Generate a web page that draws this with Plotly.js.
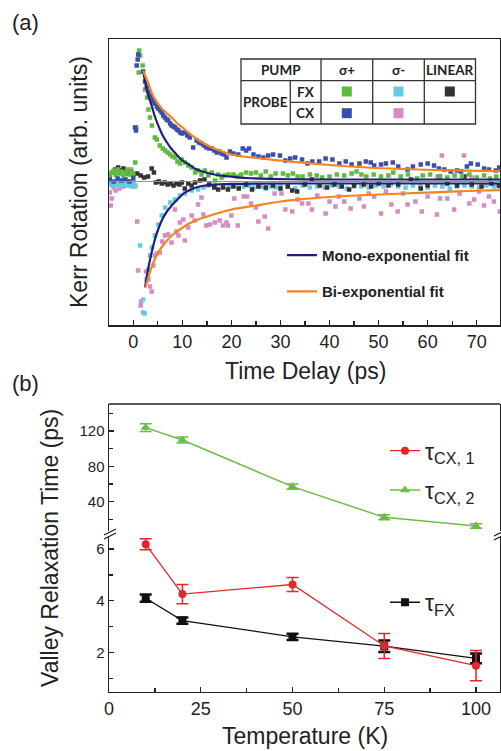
<!DOCTYPE html>
<html><head><meta charset="utf-8">
<script src="https://cdn.plot.ly/plotly-3.0.1.min.js"></script>
<style>html,body{margin:0;padding:0;background:#fff;}#chart{width:501px;height:751px;}</style>
</head><body><div id="chart"></div>
<script>
// ---------- Panel (a): Kerr rotation vs time delay ----------
const fxSigPlusT = [-4.8,-4.4,-4.0,-3.6,-3.2,-2.8,-2.4,-2.0,-1.6,-1.2,-0.8,-0.4,0.0,0.4,0.6,1.1,1.2,1.4,1.9,2.4,2.8,3.1,3.4,3.8,4.4,4.8,5.4,6.0,6.5,7.0,7.5,8.0,8.5,9.0,9.5,9.9,10.5,11.2,11.9,12.6,13.2,13.9,14.6,15.3,16.0,16.7,17.3,18.0,18.6,19.4,20.4,21.2,22.0,23.0,24.0,25.0,26.0,27.0,28.0,29.0,30.5,31.5,32.5,33.5,34.5,36.0,37.4,38.5,40.0,41.5,43.0,44.5,45.5,46.5,47.5,49.0,50.5,52.0,53.0,54.5,56.0,57.8,59.0,60.5,62.5,64.0,65.5,67.0,68.5,70.0,71.5,72.7,74.0];
const fxSigPlusV = [0.06,0.09,0.11,0.07,0.12,0.08,0.10,0.06,0.09,0.12,0.07,0.10,0.08,0.19,0.54,1.09,1.31,1.26,1.16,0.92,0.84,0.72,0.64,0.56,0.44,0.42,0.36,0.33,0.31,0.29,0.27,0.25,0.24,0.20,0.18,0.22,0.19,0.16,0.14,0.09,0.11,0.07,0.11,0.06,0.09,0.01,0.07,0.04,0.06,0.07,0.07,0.05,0.07,0.09,0.08,0.09,0.06,0.10,0.05,0.08,0.08,0.06,0.08,0.05,0.05,0.07,0.06,0.04,0.05,0.07,0.06,0.08,0.10,0.07,0.05,0.07,0.05,0.06,0.09,0.05,0.07,0.03,0.06,0.07,0.05,0.04,0.06,0.05,0.07,0.04,0.06,0.03,0.05];

const fxSigMinusT = [-4.8,-4.4,-4.0,-3.6,-3.2,-2.8,-2.4,-2.0,-1.6,-1.2,-0.8,-0.4,0.0,0.4,1.4,2.0,2.0,2.3,2.7,3.1,3.4,3.8,4.4,5.1,5.8,6.5,7.5,8.5,9.5,10.5,11.9,13.2,14.3,15.3,16.7,18.3,19.5,20.5,21.5,22.5,23.5,24.5,26.0,27.0,28.0,29.0,30.0,31.5,33.0,34.5,36.0,37.5,39.0,40.5,42.0,43.5,45.0,46.5,48.0,49.5,51.0,52.5,54.0,55.5,57.0,58.5,60.0,61.5,63.0,64.5,66.0,67.5,69.0,70.5,72.0,73.5,74.6];
const fxSigMinusV = [-0.02,-0.04,-0.01,-0.03,0.00,-0.04,-0.02,-0.03,-0.01,-0.04,-0.02,-0.05,-0.03,-0.04,-0.64,-1.18,-1.31,-1.32,-0.98,-0.88,-0.74,-0.66,-0.54,-0.43,-0.34,-0.26,-0.21,-0.18,-0.14,-0.12,-0.09,-0.08,-0.06,-0.04,-0.04,-0.04,-0.05,-0.04,-0.06,-0.05,-0.04,-0.06,-0.05,-0.07,-0.05,-0.06,-0.04,-0.05,-0.07,-0.04,-0.06,-0.05,-0.06,-0.04,-0.05,-0.07,-0.05,-0.05,-0.06,-0.04,-0.05,-0.03,-0.05,-0.06,-0.04,-0.05,-0.06,-0.04,-0.05,-0.07,-0.05,-0.04,-0.05,-0.06,-0.04,-0.05,-0.05];

const fxLinearT = [-4.8,-4.2,-3.7,-3.1,-2.6,-2.0,-1.5,-1.0,-0.5,0.0,0.8,1.5,2.2,3.0,3.75,4.2,4.6,5.2,5.8,6.4,7.0,7.6,8.2,8.8,9.4,9.9,10.5,11.2,11.9,12.6,13.6,14.5,15.5,16.5,17.3,18.3,19.3,20.4,21.5,23.0,24.2,25.5,27.0,28.5,30.0,31.5,32.4,33.4,35.0,36.4,38.0,39.5,41.0,42.5,44.0,45.0,47.0,48.5,50.0,52.0,54.0,56.6,58.6,60.0,62.5,64.0,66.0,67.5,69.0,71.0,73.0,74.5];
const fxLinearV = [0.07,0.09,0.12,0.14,0.11,0.13,0.09,0.08,0.10,0.07,0.08,0.06,0.04,0.05,0.13,0.09,-0.01,0.00,-0.02,-0.01,-0.03,-0.02,-0.04,-0.02,-0.03,-0.01,-0.07,-0.02,-0.04,-0.01,0.01,0.02,-0.03,-0.06,-0.08,-0.06,-0.08,-0.05,-0.07,-0.03,-0.08,-0.05,-0.06,-0.04,-0.07,-0.05,-0.09,-0.10,-0.03,0.02,-0.04,-0.06,-0.03,-0.05,-0.08,-0.04,-0.03,-0.05,-0.02,-0.04,-0.03,0.02,-0.07,-0.04,0.05,-0.02,-0.04,0.05,-0.03,-0.05,-0.02,-0.04];

const cxSigPlusT = [-4.8,-4.0,-3.2,-2.4,-1.6,-0.8,0.0,0.35,0.55,0.7,0.9,1.0,2.0,2.4,2.75,3.1,3.4,3.75,4.1,4.4,4.8,5.1,5.5,5.8,6.1,6.45,6.8,7.1,7.5,7.8,8.2,8.5,8.9,9.2,9.6,9.9,10.5,11.0,11.5,12.2,12.9,13.4,13.9,14.4,14.9,15.5,16.0,16.5,17.0,17.5,18.0,18.5,19.0,19.7,20.4,21.4,22.3,23.0,23.6,24.5,25.5,26.5,27.5,28.5,29.9,31.0,32.0,33.0,34.4,35.5,36.5,37.9,39.2,40.6,42.0,43.3,44.5,46.1,47.4,48.4,49.1,50.5,51.5,52.9,54.0,55.9,57.0,58.6,60.0,61.3,62.3,63.4,64.7,66.0,66.8,68.0,68.8,70.2,71.5,72.5,73.9,74.6];
const cxSigPlusV = [0.02,0.00,0.03,0.01,0.02,0.00,0.03,0.54,0.51,1.16,1.22,1.27,1.10,1.00,0.95,0.90,0.86,0.83,0.80,0.78,0.75,0.73,0.71,0.69,0.66,0.64,0.62,0.61,0.58,0.56,0.55,0.54,0.52,0.51,0.49,0.48,0.49,0.46,0.44,0.34,0.41,0.39,0.38,0.36,0.34,0.33,0.33,0.31,0.29,0.30,0.28,0.27,0.24,0.30,0.28,0.27,0.33,0.31,0.33,0.27,0.25,0.24,0.26,0.27,0.26,0.21,0.23,0.24,0.22,0.18,0.20,0.20,0.23,0.22,0.18,0.20,0.17,0.18,0.20,0.19,0.16,0.17,0.18,0.19,0.15,0.12,0.15,0.17,0.18,0.16,0.13,0.12,0.10,0.11,0.10,0.15,0.18,0.17,0.13,0.12,0.11,0.14];

const cxSigMinusT = [-4.8,-4.6,-4.4,-4.0,-3.6,-3.2,-2.8,-2.4,-2.0,-1.6,-1.2,-0.8,-0.4,0.0,0.4,0.8,1.0,1.5,1.6,2.6,3.1,3.4,3.75,4.1,4.4,4.8,5.4,5.9,6.45,7.1,7.8,8.5,8.8,9.2,9.5,10.2,10.5,11.2,11.9,12.5,13.2,13.9,14.3,14.9,15.6,16.6,17.6,18.3,19.0,19.3,20.0,20.6,21.3,22.5,23.2,24.0,25.0,25.5,26.8,27.5,28.8,30.2,31.0,32.4,33.5,34.4,35.7,36.4,37.5,39.2,40.0,41.2,41.9,43.0,44.3,46.1,47.0,48.0,49.1,50.5,51.5,52.6,53.9,55.0,55.9,57.5,58.8,60.0,61.9,62.0,62.5,62.9,64.0,65.4,66.5,67.4,68.5,69.0,69.5,70.5,71.5,72.5,73.5,74.7];
const cxSigMinusV = [-0.11,-0.24,-0.17,-0.06,-0.09,-0.03,-0.07,-0.02,-0.05,0.01,-0.03,0.00,0.12,-0.02,-0.05,-0.40,-0.89,-1.24,-1.20,-0.90,-0.98,-1.05,-1.10,-0.84,-0.74,-0.72,-0.71,-0.60,-0.54,-0.53,-0.61,-0.28,-0.50,-0.54,-0.41,-0.38,-0.59,-0.46,-0.34,-0.39,-0.23,-0.16,-0.33,-0.44,-0.43,-0.41,-0.39,-0.44,-0.41,-0.44,-0.34,-0.17,-0.44,-0.15,-0.15,-0.22,-0.26,-0.40,-0.35,-0.47,-0.12,-0.12,-0.28,-0.30,-0.18,-0.22,-0.22,-0.28,-0.14,-0.32,-0.20,-0.25,-0.15,-0.20,-0.27,-0.17,-0.25,-0.12,-0.15,-0.32,-0.10,-0.23,-0.30,-0.12,-0.23,-0.20,-0.30,-0.15,-0.33,0.05,-0.17,0.26,-0.17,-0.28,-0.12,0.26,-0.22,0.04,-0.18,-0.10,-0.24,-0.15,-0.20,-0.30];

// fitted curves
const monoUpT = [2.0,2.5,3.0,3.75,4.4,5.1,6.0,7.0,7.8,9.0,10.0,11.2,12.5,14.6,17.0,19.7,23,28,35,45,55,65,75];
const monoUpV = [1.108,0.98,0.87,0.758,0.65,0.558,0.46,0.38,0.325,0.26,0.21,0.175,0.13,0.092,0.065,0.05,0.035,0.026,0.021,0.02,0.02,0.02,0.02];
const monoLowT = [2.4,3.0,3.75,4.4,5.1,6.0,7.0,7.8,9.0,10.0,11.2,12.5,14.6,17,20,25,35,50,75];
const monoLowV = [-1.058,-0.88,-0.708,-0.58,-0.475,-0.37,-0.29,-0.242,-0.18,-0.13,-0.092,-0.065,-0.04,-0.03,-0.024,-0.021,-0.02,-0.02,-0.02];
const biUpT = [2.0,2.5,3.0,3.5,4.0,5.0,6.0,7.0,7.8,9.0,10.5,12.5,14.6,17,20.4,25,30,34,40,47.6,55,61.2,68,75];
const biUpV = [1.108,1.05,0.99,0.92,0.86,0.78,0.72,0.675,0.642,0.58,0.52,0.44,0.375,0.32,0.265,0.235,0.21,0.19,0.165,0.14,0.125,0.115,0.108,0.104];
const biLowT = [2.5,3.0,3.5,4.4,5.2,6.2,7.8,9.5,11.2,13,14.6,17,20,25,30,34,40,47.6,55,61.2,68,75];
const biLowV = [-1.058,-0.97,-0.89,-0.775,-0.70,-0.63,-0.542,-0.48,-0.425,-0.385,-0.358,-0.32,-0.28,-0.24,-0.20,-0.178,-0.155,-0.135,-0.12,-0.108,-0.095,-0.085];
const zeroT = [-5,75];
const zeroV = [0,0];

// ---------- Panel (b): valley relaxation time vs temperature ----------
const temps = [10,20,50,75,100];
const tauCX1 = [6.18,4.26,4.63,2.26,1.50];
const tauCX1Err = [0.21,0.37,0.27,0.48,0.58];
const tauCX2 = [123.8,109.8,57.0,22.3,12.5];
const tauCX2Err = [4.5,3.5,3.0,2.8,2.5];
const tauFX = [4.10,3.24,2.61,2.25,1.78];
const tauFXErr = [0.14,0.12,0.12,0.22,0.19];

const tableHead = ['PUMP','σ+','σ-','LINEAR'];
const tableRows = ['FX','CX'];

// ---------- helpers for layout in pixels ----------
const W = 501, H = 751;
const fx = p => p / W;
const fy = p => 1 - p / H;
const FONT = 'Liberation Sans, Arial, sans-serif';
const AX = '#222';

const C = {green:'#5dbb3f', cyan:'#63cde0', black:'#333333', blue:'#3b4eab', pink:'#d68bc6',
           navy:'#1d1f7a', orange:'#f5831f', red:'#e5262b', lgreen:'#6cbd45', dark:'#111111'};

function pts(x, y, color) {
  return {x:x, y:y, xaxis:'x', yaxis:'y', type:'scatter', mode:'markers', showlegend:false,
          marker:{symbol:'square', size:4.5, color:color, line:{width:0}}, hoverinfo:'skip'};
}
function fit(x, y, color, opts) {
  return Object.assign({x:x, y:y, xaxis:'x', yaxis:'y', type:'scatter', mode:'lines', showlegend:false,
          line:{color:color, width:2.2, shape:'spline', smoothing:0.8}, hoverinfo:'skip'}, opts||{});
}

const traces = [
  pts(cxSigMinusT, cxSigMinusV, C.pink),
  pts(fxSigMinusT, fxSigMinusV, C.cyan),
  pts(fxLinearT, fxLinearV, C.black),
  pts(fxSigPlusT, fxSigPlusV, C.green),
  pts(cxSigPlusT, cxSigPlusV, C.blue),
  fit(zeroT, zeroV, C.green, {line:{color:C.green, width:1.2}}),
  fit(monoLowT, monoLowV, C.navy),
  fit(monoUpT, monoUpV, C.navy, {showlegend:true, name:'<b>Mono-exponential fit</b>', legend:'legend4'}),
  fit(biLowT, biLowV, C.orange),
  fit(biUpT, biUpV, C.orange, {showlegend:true, name:'<b>Bi-exponential fit</b>', legend:'legend5'}),
  // panel b
  {x:temps, y:tauFX, xaxis:'x2', yaxis:'y2', type:'scatter', mode:'lines+markers', name:'τ<sub>FX</sub>', legend:'legend3',
   line:{color:C.dark, width:1.3}, marker:{symbol:'square', size:8, color:C.dark},
   error_y:{type:'data', array:tauFXErr, color:C.dark, thickness:2.5, width:6}},
  {x:temps, y:tauCX1, xaxis:'x2', yaxis:'y2', type:'scatter', mode:'lines+markers', name:'τ<sub>CX, 1</sub>', legend:'legend',
   line:{color:C.red, width:1.3}, marker:{symbol:'circle', size:8, color:C.red},
   error_y:{type:'data', array:tauCX1Err, color:C.red, thickness:1.5, width:6}},
  {x:temps, y:tauCX2, xaxis:'x2', yaxis:'y3', type:'scatter', mode:'lines+markers', name:'τ<sub>CX, 2</sub>', legend:'legend2',
   line:{color:C.lgreen, width:1.5}, marker:{symbol:'triangle-up', size:9, color:C.lgreen},
   error_y:{type:'data', array:tauCX2Err, color:C.lgreen, thickness:1.5, width:6}}
];

const tickFont = {family:FONT, size:18, color:AX};
const baseAxis = {showline:true, linecolor:AX, linewidth:1.5, showgrid:false, zeroline:false,
                  ticks:'inside', tickcolor:AX, tickwidth:1.3, ticklen:5, fixedrange:true};

const shapes = [];
const annotations = [];
function line(x0,y0,x1,y1,color,w){shapes.push({type:'line', xref:'paper', yref:'paper', x0:fx(x0), y0:fy(y0), x1:fx(x1), y1:fy(y1), line:{color:color||AX, width:w||1.5}});}
function rect(x0,y0,x1,y1,fill,lc,w){shapes.push({type:'rect', xref:'paper', yref:'paper', x0:fx(x0), y0:fy(y0), x1:fx(x1), y1:fy(y1), fillcolor:fill, line:{color:lc||fill, width:w===undefined?0:w}});}
function text(t,x,y,size,opts){annotations.push(Object.assign({text:t, xref:'paper', yref:'paper', x:fx(x), y:fy(y), xanchor:'center', yanchor:'middle', showarrow:false, font:{family:FONT, size:size, color:AX}}, opts||{}));}

// top border of panel b
line(109,404,500,404);
// axis break marks
rect(100,531.5,120,535.5,'#ffffff');
rect(490,531.5,501,535.5,'#ffffff');
line(104,535,116,529,AX,1.3); line(104,539,116,533,AX,1.3);
line(494,536,506,530,AX,1.3); line(494,540,506,534,AX,1.3);

// inset table
const TL='#333';
rect(241,59,475.5,124,'#ffffff',TL,1.3);
line(241,80.7,475.5,80.7,TL,1.3);
line(290.3,102.3,475.5,102.3,TL,1.3);
line(321,59,321,124,TL,1.3);
line(372.7,59,372.7,124,TL,1.3);
line(424.3,59,424.3,124,TL,1.3);
line(290.3,80.7,290.3,124,TL,1.3);
const sq = (cx,cy,col)=>rect(cx-5,cy-5,cx+5,cy+5,col);
sq(346.8,91.5,C.green); sq(398.5,91.5,C.cyan); sq(449.8,91.5,C.black);
sq(346.8,113.2,C.blue); sq(398.5,113.2,C.pink);
const TF = 'Lato, Open Sans, sans-serif';
const tOpt = {font:{family:TF, size:13.5, color:'#222'}};
text('<b>'+tableHead[0]+'</b>',281,70,13.5,tOpt);
text('<b>'+tableHead[1]+'</b>',346.8,70,13.5,tOpt);
text('<b>'+tableHead[2]+'</b>',398.5,70,13.5,tOpt);
text('<b>'+tableHead[3]+'</b>',449.8,70,13.5,tOpt);
text('<b>PROBE</b>',265.7,102.3,13.5,tOpt);
text('<b>'+tableRows[0]+'</b>',305.7,91.5,13.5,tOpt);
text('<b>'+tableRows[1]+'</b>',305.7,113.2,13.5,tOpt);

// panel labels and axis titles
text('(a)',10,22,22,{xanchor:'left'});
text('(b)',10,383,22,{xanchor:'left'});
text('Kerr Rotation (arb. units)',79,182,23,{textangle:-90});
text('Time Delay (ps)',305,371,23);
text('Valley Relaxation Time (ps)',50,548,23,{textangle:-90});
text('Temperature (K)',305,736,23);

function leg(x,y,size){
  return {x:fx(x), y:fy(y), xanchor:'left', yanchor:'middle', bgcolor:'rgba(0,0,0,0)', borderwidth:0,
          font:{family:FONT, size:size, color:AX}, itemwidth:30, tracegroupgap:0, itemclick:false, itemdoubleclick:false};
}

const layout = {
  width:W, height:H, margin:{l:0,r:0,t:0,b:0,pad:0},
  paper_bgcolor:'#ffffff', plot_bgcolor:'rgba(0,0,0,0)',
  font:{family:FONT, color:AX},
  xaxis: Object.assign({}, baseAxis, {domain:[fx(109),fx(500)], anchor:'y', range:[-4.95,74.75], mirror:true,
          tick0:0, dtick:10, tickfont:tickFont, minor:{ticks:'inside', dtick:5, ticklen:4, tickcolor:AX, tickwidth:1.3}}),
  yaxis: Object.assign({}, baseAxis, {domain:[fy(325),fy(39)], anchor:'x', range:[-1.435,1.425], mirror:true,
          ticks:'', showticklabels:false}),
  xaxis2: Object.assign({}, baseAxis, {domain:[fx(109),fx(500)], anchor:'y2', range:[0,106.54],
          tick0:0, dtick:25, tickfont:tickFont, minor:{ticks:'inside', dtick:12.5, ticklen:4, tickcolor:AX, tickwidth:1.3}}),
  yaxis2: Object.assign({}, baseAxis, {domain:[fy(691.7),fy(536)], anchor:'x2', range:[0.496,6.5], mirror:true,
          tick0:0, dtick:2, tickfont:{family:FONT, size:15, color:AX},
          minor:{ticks:'inside', dtick:1, ticklen:4, tickcolor:AX, tickwidth:1.3}}),
  yaxis3: Object.assign({}, baseAxis, {domain:[fy(531),fy(404)], anchor:'x2', range:[6.85,150.5], mirror:true,
          tick0:0, dtick:40, tickfont:{family:FONT, size:15, color:AX},
          minor:{ticks:'inside', dtick:20, ticklen:4, tickcolor:AX, tickwidth:1.3}}),
  legend: leg(385,450.7,23),
  legend2: leg(385,490,23),
  legend3: leg(385,602.3,23),
  legend4: leg(282,255.3,15),
  legend5: leg(282,291.7,15),
  shapes: shapes,
  annotations: annotations
};

Plotly.newPlot('chart', traces, layout, {staticPlot:true, displayModeBar:false});
</script></body></html>
